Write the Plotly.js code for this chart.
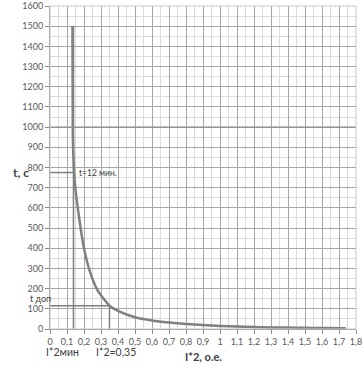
<!DOCTYPE html>
<html>
<head>
<meta charset="utf-8">
<script src="https://cdn.plot.ly/plotly-3.0.1.min.js"></script>
<style>html,body{margin:0;padding:0;background:#fff;}#chart{width:364px;height:370px;}</style>
</head>
<body>
<div id="chart"></div>
<script>
// Curve: relative current squared I*2 (o.e.) vs permissible time t (s)
const currentRatio = [0.132, 0.134, 0.136, 0.142, 0.15, 0.165, 0.18, 0.20, 0.232, 0.279, 0.35, 0.40, 0.5, 0.6, 0.7, 0.8, 0.9, 1.0, 1.1, 1.2, 1.3, 1.4, 1.5, 1.6, 1.74];
const timeSec      = [1500, 1000, 890, 775, 690, 590, 500, 400, 292, 193, 115, 90, 58, 42, 32, 25, 20, 15, 12, 10, 8, 7, 6, 5, 4];
// Marker values
const iMin = 0.138, tMin = 775;   // t = 12 min
const iDop = 0.35,  tDop = 115;   // t доп
const refLine = 1000;

const gray = '#7f7f7f';
const font = 'Lato, "Open Sans", "Liberation Sans", sans-serif';

const traces = [
  {x: [0, iMin], y: [tMin, tMin], mode: 'lines', line: {color: gray, width: 1.5}, hoverinfo: 'skip'},
  {x: [iMin, iMin], y: [0, 1500], mode: 'lines', line: {color: gray, width: 1.5}, hoverinfo: 'skip'},
  {x: [0, iDop], y: [tDop, tDop], mode: 'lines', line: {color: gray, width: 1.5}, hoverinfo: 'skip'},
  {x: [iDop, iDop], y: [0, tDop], mode: 'lines', line: {color: gray, width: 1.5}, hoverinfo: 'skip'},
  {x: currentRatio, y: timeSec, mode: 'lines', line: {color: '#808080', width: 2.5, shape: 'spline', smoothing: 0.5}}
];

const layout = {
  width: 364, height: 370,
  margin: {l: 50, r: 8, t: 6, b: 41},
  paper_bgcolor: '#fff', plot_bgcolor: '#fff',
  showlegend: false,
  separators: ', ',
  font: {family: font, size: 9, color: '#595959'},
  xaxis: {
    range: [0, 1.8], dtick: 0.1, tick0: 0,
    showgrid: true, gridcolor: '#a6a6a6', gridwidth: 1,
    minor: {dtick: 0.05, showgrid: true, gridcolor: '#dadada', gridwidth: 1},
    zeroline: false, showline: true, linecolor: '#8c8c8c', linewidth: 1, mirror: false,
    ticks: 'outside', ticklen: 4, tickcolor: '#8c8c8c',
    tickfont: {size: 9, color: '#595959'}, fixedrange: true
  },
  yaxis: {
    range: [0, 1600], dtick: 100, tick0: 0,
    showgrid: true, gridcolor: '#a6a6a6', gridwidth: 1,
    minor: {dtick: 50, showgrid: true, gridcolor: '#dadada', gridwidth: 1},
    zeroline: false, showline: true, linecolor: '#8c8c8c', linewidth: 1,
    ticks: 'outside', ticklen: 4, tickcolor: '#8c8c8c',
    tickfont: {size: 9, color: '#595959'}, fixedrange: true
  },
  shapes: [
    {type: 'line', xref: 'paper', x0: 0, x1: 1, yref: 'y', y0: refLine, y1: refLine, line: {color: '#8c8c8c', width: 1.2}},
    {type: 'rect', xref: 'paper', yref: 'paper', x0: 0, x1: 1, y0: 0, y1: 1, line: {color: '#c8c8c8', width: 1}}
  ],
  annotations: [
    {text: '<b>t, c</b>', xref: 'paper', yref: 'y', x: -0.095, y: tMin, showarrow: false, font: {size: 12, color: '#404040'}, xanchor: 'center', yanchor: 'middle'},
    {text: 't=12 мин.', xref: 'x', yref: 'y', x: 0.16, y: tMin, showarrow: false, font: {size: 8.5, color: '#404040'}, xanchor: 'left', yanchor: 'middle'},
    {text: 't доп', xref: 'paper', yref: 'y', x: -0.03, y: 152, showarrow: false, font: {size: 9, color: '#404040'}, xanchor: 'center', yanchor: 'middle'},
    {text: 'I*2мин', xref: 'x', yref: 'paper', x: 0.075, y: -0.045, showarrow: false, font: {size: 10.5, color: '#404040'}, xanchor: 'center', yanchor: 'top'},
    {text: 'I*2=0,35', xref: 'x', yref: 'paper', x: 0.39, y: -0.045, showarrow: false, font: {size: 10.5, color: '#404040'}, xanchor: 'center', yanchor: 'top'},
    {text: '<b>I*2, о.е.</b>', xref: 'paper', yref: 'paper', x: 0.5, y: -0.06, showarrow: false, font: {size: 11, color: '#404040'}, xanchor: 'center', yanchor: 'top'}
  ]
};

Plotly.newPlot('chart', traces, layout, {displayModeBar: false, staticPlot: true});
</script>
</body>
</html>
